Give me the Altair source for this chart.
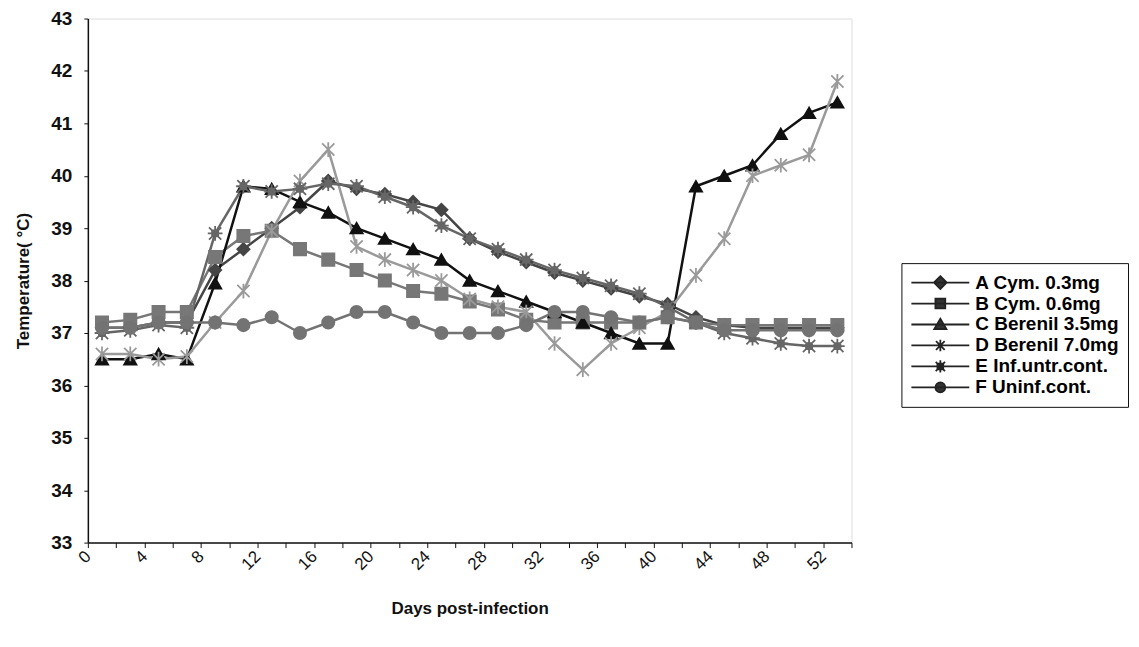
import altair as alt
import pandas as pd

# ---- data ----
days = list(range(0, 53, 2))
series_names = ["A Cym. 0.3mg", "B Cym. 0.6mg", "C Berenil 3.5mg",
                "D Berenil 7.0mg", "E Inf.untr.cont.", "F Uninf.cont."]

A = [37.1, 37.1, 37.2, 37.2, 38.2, 38.6, 39.0, 39.4, 39.9, 39.75,
     39.65, 39.5, 39.35, 38.8, 38.55, 38.35, 38.15, 38.0, 37.85, 37.7,
     37.55, 37.3, 37.15, 37.1, 37.1, 37.1, 37.1]
B = [37.2, 37.25, 37.4, 37.4, 38.45, 38.85, 38.95, 38.6, 38.4, 38.2,
     38.0, 37.8, 37.75, 37.6, 37.45, 37.25, 37.2, 37.2, 37.2, 37.2,
     37.3, 37.2, 37.15, 37.15, 37.15, 37.15, 37.15]
C = [36.5, 36.5, 36.6, 36.5, 37.95, 39.8, 39.75, 39.5, 39.3, 39.0,
     38.8, 38.6, 38.4, 38.0, 37.8, 37.6, 37.4, 37.2, 37.0, 36.8,
     36.8, 39.8, 40.0, 40.2, 40.8, 41.2, 41.4]
D = [36.6, 36.6, 36.5, 36.55, 37.2, 37.8, 38.95, 39.9, 40.5, 38.65,
     38.4, 38.2, 38.0, 37.65, 37.5, 37.4, 36.8, 36.3, 36.8, 37.1,
     37.4, 38.1, 38.8, 40.0, 40.2, 40.4, 41.8]
E = [37.0, 37.05, 37.15, 37.1, 38.9, 39.8, 39.7, 39.75, 39.85, 39.8,
     39.6, 39.4, 39.05, 38.8, 38.6, 38.4, 38.2, 38.05, 37.9, 37.75,
     37.5, 37.2, 37.0, 36.9, 36.8, 36.75, 36.75]
F = [37.1, 37.1, 37.2, 37.2, 37.2, 37.15, 37.3, 37.0, 37.2, 37.4,
     37.4, 37.2, 37.0, 37.0, 37.0, 37.15, 37.4, 37.4, 37.3, 37.2,
     37.3, 37.2, 37.05, 37.05, 37.05, 37.05, 37.05]

y_ticks = list(range(33, 44))
x_tick_positions = list(range(-1, 54, 2))

# ---- styling ----
colors = ["#454545", "#777777", "#111111", "#9a9a9a", "#666666", "#737373"]
marker_shapes = [
    "diamond",
    "square",
    "triangle-up",
    "M-1,-1L1,1M-1,1L1,-1M0,-1.2V1.2",
    "M-1,-1L1,1M-1,1L1,-1M0,-1.2V1.2M-1.2,0H1.2M-0.5,-0.5H0.5V0.5H-0.5Z",
    "circle",
]
legend_shapes = [
    "M-1,0H1M0,-0.22L0.22,0L0,0.22L-0.22,0Z",
    "M-1,0H1M-0.17,-0.17H0.17V0.17H-0.17Z",
    "M-1,0H1M0,-0.2L0.21,0.16H-0.21Z",
    "M-1,0H1M-0.15,-0.15L0.15,0.15M-0.15,0.15L0.15,-0.15M0,-0.2V0.2",
    "M-1,0H1M-0.16,-0.16L0.16,0.16M-0.16,0.16L0.16,-0.16M0,-0.21V0.21M-0.1,-0.1H0.1V0.1H-0.1Z",
    "M-1,0H1M0.17,0A0.17,0.17,0,1,1,-0.17,0A0.17,0.17,0,1,1,0.17,0Z",
]

values = [A, B, C, D, E, F]
rows = []
for name, vals in zip(series_names, values):
    for d, v in zip(days, vals):
        rows.append({"day": d, "temp": v, "series": name})
df = pd.DataFrame(rows)

FONT = "Liberation Sans"

x_enc = alt.X(
    "day:Q",
    scale=alt.Scale(domain=[-1, 53], nice=False, zero=False),
    axis=alt.Axis(
        values=x_tick_positions,
        labelExpr="(datum.value + 1) % 4 == 0 ? '' + (datum.value + 1) : ''",
        labelAngle=315,
        labelAlign="right",
        labelBaseline="middle",
        labelOverlap=False,
        labelFlush=False,
        labelFont=FONT,
        labelFontSize=17,
        labelColor="#111",
        labelPadding=6,
        tickSize=5,
        tickColor="#111",
        domainColor="#111",
        domainWidth=1.5,
        grid=False,
        title="Days post-infection",
        titleFont=FONT,
        titleFontSize=17,
        titleFontWeight="bold",
        titleColor="#111",
        titlePadding=28,
    ),
)
y_enc = alt.Y(
    "temp:Q",
    scale=alt.Scale(domain=[33, 43], nice=False, zero=False),
    axis=alt.Axis(
        values=y_ticks,
        labelFont=FONT,
        labelFontSize=19,
        labelFontWeight="bold",
        labelColor="#111",
        labelPadding=12,
        tickSize=4,
        tickColor="#111",
        domainColor="#111",
        domainWidth=1.5,
        grid=False,
        title="Temperature( °C)",
        titleFont=FONT,
        titleFontSize=17,
        titleFontWeight="bold",
        titleColor="#111",
        titlePadding=18,
    ),
)

lines = alt.Chart(df).mark_line(strokeWidth=2.5).encode(
    x=x_enc,
    y=y_enc,
    color=alt.Color("series:N", scale=alt.Scale(domain=series_names, range=colors), legend=None),
    detail="series:N",
)

points = alt.Chart(df).mark_point(filled=True, size=150, strokeWidth=1.8, opacity=1).encode(
    x=x_enc,
    y=y_enc,
    shape=alt.Shape("series:N", scale=alt.Scale(domain=series_names, range=marker_shapes), legend=None),
    fill=alt.Fill("series:N", scale=alt.Scale(domain=series_names, range=colors), legend=None),
    stroke=alt.Stroke("series:N", scale=alt.Scale(domain=series_names, range=colors), legend=None),
)

legend_layer = alt.Chart(df).transform_filter("datum.temp > 100").mark_point(
    filled=True, color="#333333", stroke="#222222", strokeWidth=1.8
).encode(
    x=x_enc,
    y=y_enc,
    shape=alt.Shape(
        "series:N",
        scale=alt.Scale(domain=series_names, range=legend_shapes),
        legend=alt.Legend(
            title=None,
            orient="none",
            legendX=815,
            legendY=245,
            strokeColor="#111",
            fillColor="white",
            padding=9,
            cornerRadius=0,
            clipHeight=21,
            rowPadding=0,
            symbolSize=3364,
            symbolOpacity=1,
            symbolStrokeWidth=1.8,
            labelFont=FONT,
            labelFontSize=19,
            labelFontWeight="bold",
            labelColor="#000",
            labelOffset=5,
            labelLimit=300,
        ),
    ),
)

chart = alt.layer(lines, points, legend_layer).resolve_scale(
    shape="independent", fill="independent", stroke="independent"
).properties(
    width=765,
    height=525,
    autosize=alt.AutoSizeParams(type="none"),
    padding={"left": 80, "top": 10, "right": 280, "bottom": 100},
).configure_view(stroke=None).configure(background="white")

chart.save("out.html", embed_options={"renderer": "svg", "actions": False})
